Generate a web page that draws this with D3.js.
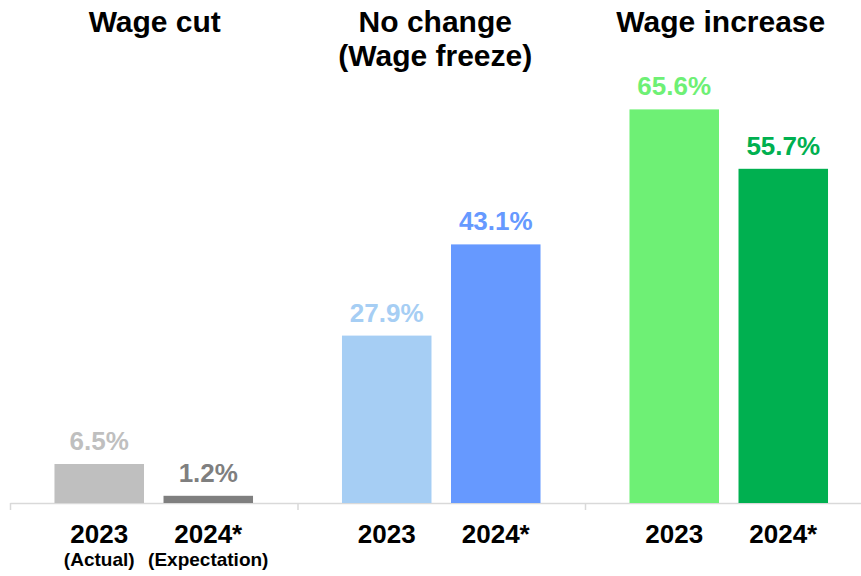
<!DOCTYPE html>
<html>
<head>
<meta charset="utf-8">
<script src="https://cdn.jsdelivr.net/npm/d3@7"></script>
<style>
  html, body { margin: 0; padding: 0; background: #fff; }
  svg { display: block; font-family: Arial, "Liberation Sans", sans-serif; }
</style>
</head>
<body>
<svg id="chart" width="861" height="576"></svg>
<script>
// Survey shares (%) of firms by wage action, actual 2023 vs expected 2024
const groups = ["Wage cut", "No change|(Wage freeze)", "Wage increase"];
const years = ["2023", "2024*"];
const yearNotes = [["(Actual)", "(Expectation)"], ["", ""], ["", ""]];
const values2023 = [6.5, 27.9, 65.6];
const values2024 = [1.2, 43.1, 55.7];

const barColors = [
  ["#BFBFBF", "#7F7F7F"],
  ["#A6CEF4", "#6699FF"],
  ["#6EF075", "#00B050"]
];
// Small horizontal nudges for the group titles
const titleShift = [1, -6, -8];

const svg = d3.select("#chart");
const baseY = 503;

const rows = groups.map((g, i) => ({
  group: g,
  shift: titleShift[i],
  bars: years.map((yr, j) => ({
    year: yr,
    note: yearNotes[i][j],
    value: j === 0 ? values2023[i] : values2024[i],
    color: barColors[i][j]
  }))
}));

// Outer scale: one band per group, edges at the axis ticks
const x0 = d3.scaleBand().domain(groups).range([10, 872.5]).padding(0);
// Inner scale: the two years inside a group
const x1 = d3.scaleBand().domain(years).range([0, x0.bandwidth()])
  .paddingInner(0.179).paddingOuter(0.408);
const y = d3.scaleLinear().domain([0, 70]).range([baseY, baseY - 420]);

// Axis line with ticks on the group boundaries
const xb = d3.scaleLinear().domain([0, groups.length]).range([10, 872.5]);
const axis = svg.append("g")
  .attr("transform", `translate(0,${baseY})`)
  .call(d3.axisBottom(xb).tickValues(d3.range(groups.length + 1))
    .tickFormat("").tickSizeInner(7).tickSizeOuter(0));
axis.select(".domain").attr("stroke", "#D9D9D9").attr("stroke-width", 1.5);
axis.selectAll(".tick line").attr("stroke", "#D9D9D9").attr("stroke-width", 1.5);

const g = svg.selectAll("g.group").data(rows).join("g")
  .attr("class", "group")
  .attr("transform", d => `translate(${x0(d.group)},0)`);

// Group titles
g.each(function (d) {
  const cx = x0.bandwidth() / 2 + d.shift;
  d3.select(this).append("text")
    .attr("text-anchor", "middle")
    .attr("font-size", 30).attr("font-weight", "bold").attr("fill", "#000")
    .selectAll("tspan").data(d.group.split("|")).join("tspan")
    .attr("x", cx)
    .attr("y", (t, i) => 32 + i * 34)
    .text(t => t);
});

const bar = g.selectAll("g.bar").data(d => d.bars).join("g").attr("class", "bar");

bar.append("rect")
  .attr("x", d => x1(d.year))
  .attr("width", x1.bandwidth())
  .attr("y", d => y(d.value))
  .attr("height", d => baseY - y(d.value))
  .attr("fill", d => d.color);

// Value labels above bars
bar.append("text")
  .attr("x", d => x1(d.year) + x1.bandwidth() / 2)
  .attr("y", d => y(d.value) - 14)
  .attr("text-anchor", "middle")
  .attr("font-size", 26).attr("font-weight", "bold")
  .attr("fill", d => d.color)
  .text(d => d.value.toFixed(1) + "%");

// Category labels under the axis
bar.append("text")
  .attr("x", d => x1(d.year) + x1.bandwidth() / 2)
  .attr("y", 543)
  .attr("text-anchor", "middle")
  .attr("font-size", 26).attr("font-weight", "bold").attr("fill", "#000")
  .text(d => d.year);

bar.filter(d => d.note).append("text")
  .attr("x", d => x1(d.year) + x1.bandwidth() / 2)
  .attr("y", 566)
  .attr("text-anchor", "middle")
  .attr("font-size", 19).attr("font-weight", "bold").attr("fill", "#000")
  .text(d => d.note);
</script>
</body>
</html>
